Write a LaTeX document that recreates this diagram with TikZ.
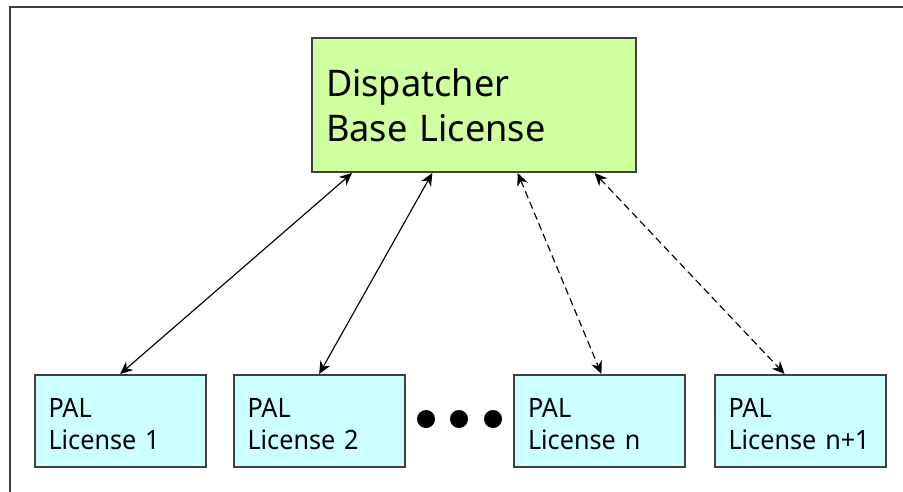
\documentclass[tikz,border=0pt]{standalone}
\usepackage{fontspec}
\setmainfont{Noto Sans}
\newfontfamily\palfont[FakeStretch=0.945]{Noto Sans}
\newfontfamily\basefont[FakeStretch=0.985]{Noto Sans}
\usetikzlibrary{arrows.meta,calc}
\definecolor{basegreen}{HTML}{CFFF9F}
\definecolor{palcyan}{HTML}{CCFFFF}
\definecolor{edgegray}{HTML}{404040}
\tikzset{
  x=0.75pt,y=-0.75pt,
  framebox/.style={draw=edgegray,line width=1.5pt},
  palbox/.style={draw=edgegray,line width=1.5pt,fill=palcyan,inner ysep=0pt,inner xsep=10.5pt,
    text width=107.5pt,align=left,text height=31.5pt,text depth=37.5pt,
    font=\palfont\fontsize{20}{24}\selectfont,text=black},
  basebox/.style={draw=edgegray,line width=1.5pt,fill=basegreen,inner ysep=0pt,inner xsep=10.5pt,
    text width=222pt,align=left,text height=44.25pt,text depth=56.25pt,
    font=\basefont\fontsize{27.5}{33.75}\selectfont,text=black},
  link/.style={draw=black,line width=0.85pt,{Stealth[length=9.5pt,width=8.5pt]}-{Stealth[length=9.5pt,width=8.5pt]}},
  duallink/.style={link,dash pattern=on 5.5pt off 3.2pt},
  elldot/.style={circle,fill=black,inner sep=0pt,minimum size=13.5pt},
}
\begin{document}
\begin{tikzpicture}
\useasboundingbox (0,0) rectangle (903,492);
\draw[framebox] (10,495) -- (10,7) -- (906,7);
\node[basebox,anchor=north west] (d) at (311,37) {Dispatcher\\Base License};
\node[palbox,anchor=north west] (p1) at (33.5,374) {PAL\\License 1};
\node[palbox,anchor=north west] (p2) at (232.5,374) {PAL\\License 2};
\node[palbox,anchor=north west] (pn) at (513,374) {PAL\\License n};
\node[palbox,anchor=north west] (pm) at (713.5,374) {PAL\\\mbox{License n+1}};
\node[elldot] (e1) at (426,419) {};
\node[elldot] (e2) at (459,419) {};
\node[elldot] (e3) at (493,419) {};
\draw[link] ($(d.south west)!0.126!(d.south east)$) -- ($(p1.north west)!0.5!(p1.north east)$);
\draw[link] ($(d.south west)!0.372!(d.south east)$) -- ($(p2.north west)!0.5!(p2.north east)$);
\draw[duallink] ($(d.south west)!0.634!(d.south east)$) -- ($(pn.north west)!0.51!(pn.north east)$);
\draw[duallink] ($(d.south west)!0.87!(d.south east)$) -- ($(pm.north west)!0.41!(pm.north east)$);
\end{tikzpicture}
\end{document}
